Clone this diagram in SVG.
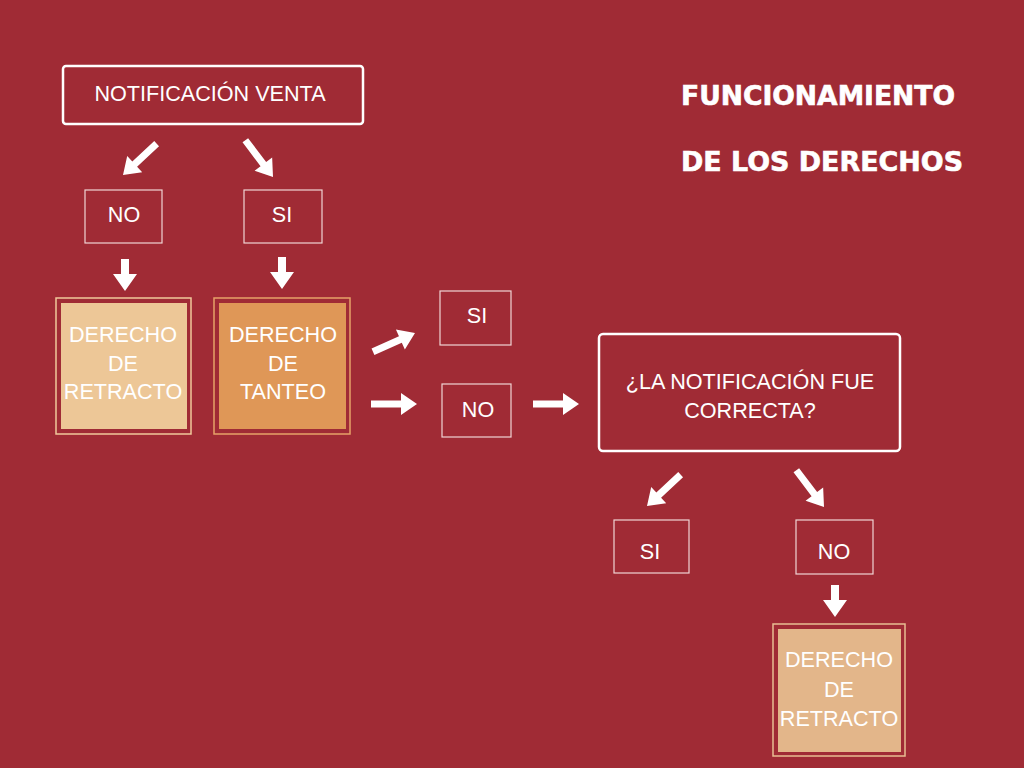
<svg xmlns="http://www.w3.org/2000/svg" width="1024" height="768" viewBox="0 0 1024 768">
<style>
.t{font-family:"Liberation Sans",Arial,sans-serif;font-size:21.6px;fill:#fff;text-anchor:middle}
.title{font-family:"DejaVu Sans",Lato,sans-serif;font-weight:bold;font-size:26px;fill:#fff;stroke:#fff;stroke-width:0.6}
.big{fill:none;stroke:#fff;stroke-width:2.5}
.sm{fill:none;stroke:#f0d4d4;stroke-width:1.2}
.arr{fill:#fff}
</style>
<defs>
<path id="aL" d="M-46,-3.5 L-16,-3.5 L-16,-11 L0,0 L-16,11 L-16,3.5 L-46,3.5 Z"/>
<path id="aS" d="M-32,-4 L-17,-4 L-17,-12 L0,0 L-17,12 L-17,4 L-32,4 Z"/>
</defs>
<rect width="1024" height="768" fill="#A02B35"/>

<g id="title">
<text class="title" x="681" y="105" textLength="274" lengthAdjust="spacingAndGlyphs">FUNCIONAMIENTO</text>
<text class="title" x="681" y="171" textLength="282" lengthAdjust="spacingAndGlyphs">DE LOS DERECHOS</text>
</g>

<g id="notificacion">
<rect class="big" x="63" y="66" width="300" height="58" rx="3"/>
<text class="t" x="210" y="101">NOTIFICACIÓN VENTA</text>
</g>

<g id="no1">
<rect class="sm" x="85" y="190" width="77" height="53"/>
<text class="t" x="124" y="222">NO</text>
</g>
<g id="si1">
<rect class="sm" x="244" y="190" width="78" height="53"/>
<text class="t" x="282" y="222">SI</text>
</g>

<g id="retracto1">
<rect x="56" y="298" width="135" height="136" fill="none" stroke="#F0C99B" stroke-width="1.5"/>
<rect x="61" y="303" width="126" height="126" fill="#EDC797"/>
<text class="t" x="123" y="342">DERECHO</text>
<text class="t" x="123" y="371">DE</text>
<text class="t" x="123" y="399">RETRACTO</text>
</g>

<g id="tanteo">
<rect x="214" y="298" width="136" height="136" fill="none" stroke="#E6A268" stroke-width="1.5"/>
<rect x="219" y="303" width="127" height="126" fill="#DF9757"/>
<text class="t" x="283" y="342">DERECHO</text>
<text class="t" x="283" y="371">DE</text>
<text class="t" x="283" y="399">TANTEO</text>
</g>

<g id="si2">
<rect class="sm" x="440" y="291" width="71" height="54"/>
<text class="t" x="477" y="323">SI</text>
</g>
<g id="no2">
<rect class="sm" x="442" y="384" width="69" height="53"/>
<text class="t" x="478" y="417">NO</text>
</g>

<g id="pregunta">
<rect class="big" x="599" y="334" width="301" height="117" rx="4"/>
<text class="t" x="750" y="389">¿LA NOTIFICACIÓN FUE</text>
<text class="t" x="750" y="418">CORRECTA?</text>
</g>

<g id="si3">
<rect class="sm" x="614" y="520" width="75" height="53"/>
<text class="t" x="650" y="559">SI</text>
</g>
<g id="no3">
<rect class="sm" x="796" y="520" width="77" height="54"/>
<text class="t" x="834" y="559">NO</text>
</g>

<g id="retracto2">
<rect x="773" y="624" width="132" height="132" fill="none" stroke="#E8BE92" stroke-width="1.5"/>
<rect x="778" y="629" width="123" height="123" fill="#E3B68A"/>
<text class="t" x="839" y="667">DERECHO</text>
<text class="t" x="839" y="697">DE</text>
<text class="t" x="839" y="726">RETRACTO</text>
</g>

<g id="connectors" class="arr">
<use href="#aL" transform="translate(123,175) rotate(137)"/>
<use href="#aL" transform="translate(273,177) rotate(53)"/>
<use href="#aS" transform="translate(125,291) rotate(90)"/>
<use href="#aS" transform="translate(282,289) rotate(90)"/>
<use href="#aL" transform="translate(415,333) rotate(-24)"/>
<use href="#aL" transform="translate(417,404)"/>
<use href="#aL" transform="translate(579,404)"/>
<use href="#aL" transform="translate(647,506) rotate(137)"/>
<use href="#aL" transform="translate(824,507) rotate(53)"/>
<use href="#aS" transform="translate(835,617) rotate(90)"/>
</g>
</svg>
